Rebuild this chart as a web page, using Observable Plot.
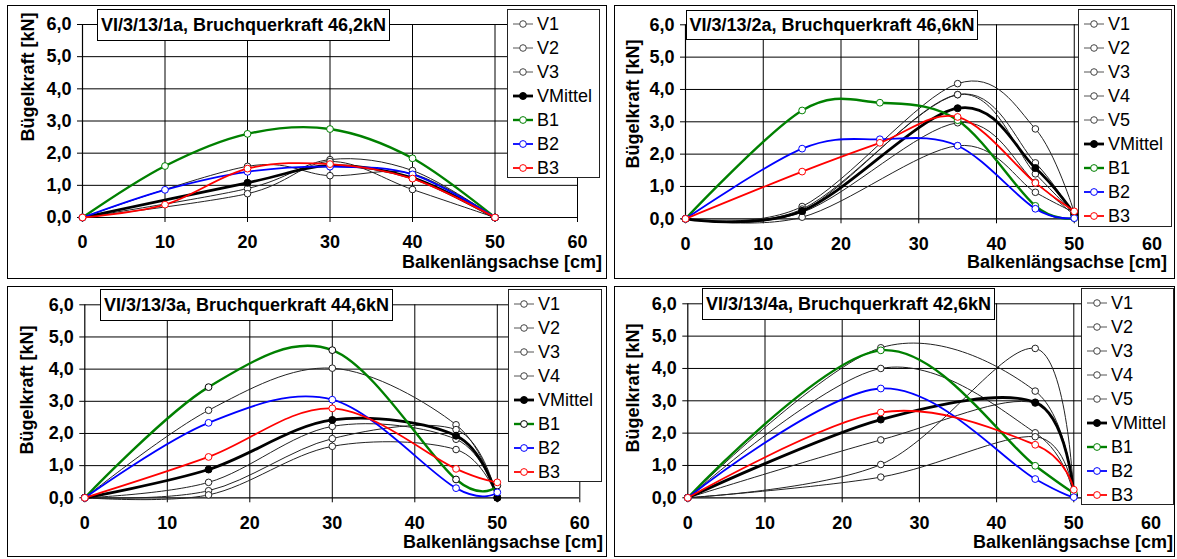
<!DOCTYPE html>
<html><head><meta charset="utf-8">
<script src="https://cdn.jsdelivr.net/npm/d3@7"></script>
<script src="https://cdn.jsdelivr.net/npm/@observablehq/plot@0.6"></script>
<style>
body{margin:0;background:#fff;font-family:"Liberation Sans",Arial,sans-serif;color:#000;}
#root{position:relative;width:1177px;height:559px;overflow:hidden;background:#fff;}
.frame{position:absolute;box-sizing:border-box;border:1.5px solid #000;}
.plotwrap{position:absolute;}
.plotwrap svg{display:block;overflow:visible;}
.title{position:absolute;box-sizing:border-box;border:1px solid #000;background:#fff;font-weight:bold;font-size:18px;display:flex;align-items:center;justify-content:center;white-space:nowrap;}
.legend{position:absolute;box-sizing:border-box;border:1px solid #222;background:#fff;}
.lg-item{position:absolute;left:4px;height:22px;display:flex;align-items:center;font-size:18px;white-space:nowrap;}
.lg-item svg{display:block;margin-right:3px;}
.ylab{position:absolute;font-weight:bold;font-size:18px;white-space:nowrap;transform:translate(-50%,-50%) rotate(-90deg);}
.xlab{position:absolute;font-weight:bold;font-size:18px;white-space:nowrap;transform:translate(-100%,-50%);}
</style></head><body><div id="root"></div>
<script>
// ---------- shared labels / ticks ----------
const xTicks = [0, 10, 20, 30, 40, 50, 60];
const yTicks = [0, 1, 2, 3, 4, 5, 6];
const xLabel = "Balkenlängsachse [cm]";
const yLabel = "Bügelkraft [kN]";

// ---------- Panel 1: VI/3/13/1a ----------
const p1_title = "VI/3/13/1a, Bruchquerkraft 46,2kN";
const p1_xV = [0, 20, 30, 40, 50];
const p1_xB = [0, 10, 20, 30, 40, 50];
const p1_V1 = [0, 1.59, 1.30, 1.36, 0];
const p1_V2 = [0, 0.90, 1.80, 1.46, 0];
const p1_V3 = [0, 0.74, 1.74, 0.87, 0];
const p1_VMittel = [0, 1.08, 1.61, 1.23, 0];
const p1_B1 = [0, 1.60, 2.60, 2.75, 1.84, 0];
const p1_B2 = [0, 0.86, 1.42, 1.58, 1.34, 0];
const p1_B3 = [0, 0.40, 1.52, 1.66, 1.21, 0];

// ---------- Panel 2: VI/3/13/2a ----------
const p2_title = "VI/3/13/2a, Bruchquerkraft 46,6kN";
const p2_xV = [0, 15, 35, 45, 50];
const p2_xB = [0, 15, 25, 35, 45, 50];
const p2_V1 = [0, 0.38, 4.18, 2.78, 0.20];
const p2_V2 = [0, 0.30, 3.84, 1.73, 0.10];
const p2_V3 = [0, 0.25, 3.84, 1.39, 0.15];
const p2_V4 = [0, 0.20, 2.97, 1.13, 0.10];
const p2_V5 = [0, 0.05, 2.26, 0.82, 0.20];
const p2_VMittel = [0, 0.24, 3.42, 1.57, 0.15];
const p2_B1 = [0, 3.35, 3.59, 3.05, 0.40, 0.02];
const p2_B2 = [0, 2.17, 2.46, 2.26, 0.31, 0.02];
const p2_B3 = [0, 1.46, 2.35, 3.15, 1.11, 0.23];

// ---------- Panel 3: VI/3/13/3a ----------
const p3_title = "VI/3/13/3a, Bruchquerkraft 44,6kN";
const p3_x = [0, 15, 30, 45, 50];
const p3_V1 = [0, 2.72, 4.03, 2.27, 0];
const p3_V2 = [0, 0.48, 2.22, 1.82, 0];
const p3_V3 = [0, 0.22, 1.84, 2.12, 0];
const p3_V4 = [0, 0.09, 1.60, 1.50, 0];
const p3_VMittel = [0, 0.88, 2.42, 1.93, 0];
const p3_B1 = [0, 3.44, 4.59, 0.57, 0.38];
const p3_B2 = [0, 2.33, 3.05, 0.30, 0.17];
const p3_B3 = [0, 1.27, 2.78, 0.90, 0.48];

// ---------- Panel 4: VI/3/13/4a ----------
const p4_title = "VI/3/13/4a, Bruchquerkraft 42,6kN";
const p4_x = [0, 25, 45, 50];
const p4_V1 = [0, 4.64, 3.30, 0.10];
const p4_V2 = [0, 4.00, 2.01, 0.05];
const p4_V3 = [0, 1.79, 2.93, 0.10];
const p4_V4 = [0, 1.03, 4.62, 0.05];
const p4_V5 = [0, 0.64, 1.89, 0.10];
const p4_VMittel = [0, 2.42, 2.95, 0.08];
const p4_B1 = [0, 4.56, 0.99, 0.15];
const p4_B2 = [0, 3.38, 0.58, 0.02];
const p4_B3 = [0, 2.64, 1.64, 0.25];

// ---------- styles ----------
const GREEN = "#008000", BLUE = "#0000ff", RED = "#ff0000", THIN = "#222";
function vStyle() { return {stroke: THIN, width: 1, fill: "#fff", mstroke: THIN, r: 3.3}; }
const meanStyle = {stroke: "#000", width: 2.8, fill: "#000", mstroke: "#000", r: 3.5};
const b1Style = {stroke: GREEN, width: 2.4, fill: "#fff", mstroke: GREEN, r: 3.4};
const b1StyleBlack = {stroke: GREEN, width: 2.4, fill: "#fff", mstroke: "#000", r: 3.4};
const b2Style = {stroke: BLUE, width: 1.8, fill: "#fff", mstroke: BLUE, r: 3.4};
const b3Style = {stroke: RED, width: 1.8, fill: "#fff", mstroke: RED, r: 3.4};

const panels = [
  {
    title: p1_title,
    box: {l: 7, t: 5, w: 600, h: 274}, area: {x0: 82, x60: 577, y6: 24, y0: 217},
    tbox: {l: 97, t: 9, w: 293, h: 32}, ylab: {x: 28, y: 77}, xlab: {r: 602, y: 262},
    leg: {l: 507, t: 9, w: 93, h: 169},
    series: [
      {name: "V1", x: p1_xV, y: p1_V1, s: vStyle()},
      {name: "V2", x: p1_xV, y: p1_V2, s: vStyle()},
      {name: "V3", x: p1_xV, y: p1_V3, s: vStyle()},
      {name: "VMittel", x: p1_xV, y: p1_VMittel, s: meanStyle},
      {name: "B1", x: p1_xB, y: p1_B1, s: b1Style},
      {name: "B2", x: p1_xB, y: p1_B2, s: b2Style},
      {name: "B3", x: p1_xB, y: p1_B3, s: b3Style}
    ]
  },
  {
    title: p2_title,
    box: {l: 614, t: 5, w: 561, h: 274}, area: {x0: 685, x60: 1151.5, y6: 24.3, y0: 218.3},
    tbox: {l: 686, t: 10, w: 292, h: 30}, ylab: {x: 633, y: 104}, xlab: {r: 1167, y: 262},
    leg: {l: 1078, t: 9, w: 94, h: 218},
    series: [
      {name: "V1", x: p2_xV, y: p2_V1, s: vStyle()},
      {name: "V2", x: p2_xV, y: p2_V2, s: vStyle()},
      {name: "V3", x: p2_xV, y: p2_V3, s: vStyle()},
      {name: "V4", x: p2_xV, y: p2_V4, s: vStyle()},
      {name: "V5", x: p2_xV, y: p2_V5, s: vStyle()},
      {name: "VMittel", x: p2_xV, y: p2_VMittel, s: meanStyle},
      {name: "B1", x: p2_xB, y: p2_B1, s: b1Style},
      {name: "B2", x: p2_xB, y: p2_B2, s: b2Style},
      {name: "B3", x: p2_xB, y: p2_B3, s: b3Style}
    ]
  },
  {
    title: p3_title,
    box: {l: 7, t: 286, w: 600, h: 271}, area: {x0: 84.3, x60: 579.3, y6: 304.3, y0: 497.3},
    tbox: {l: 100, t: 289, w: 293, h: 32}, ylab: {x: 27, y: 390}, xlab: {r: 603, y: 542},
    leg: {l: 508, t: 289, w: 94, h: 193},
    series: [
      {name: "V1", x: p3_x, y: p3_V1, s: vStyle()},
      {name: "V2", x: p3_x, y: p3_V2, s: vStyle()},
      {name: "V3", x: p3_x, y: p3_V3, s: vStyle()},
      {name: "V4", x: p3_x, y: p3_V4, s: vStyle()},
      {name: "VMittel", x: p3_x, y: p3_VMittel, s: meanStyle},
      {name: "B1", x: p3_x, y: p3_B1, s: b1StyleBlack},
      {name: "B2", x: p3_x, y: p3_B2, s: b2Style},
      {name: "B3", x: p3_x, y: p3_B3, s: b3Style}
    ]
  },
  {
    title: p4_title,
    box: {l: 614, t: 286, w: 561, h: 271}, area: {x0: 687.3, x60: 1150.5, y6: 303.3, y0: 497.3},
    tbox: {l: 702, t: 288, w: 293, h: 32}, ylab: {x: 633, y: 388}, xlab: {r: 1173, y: 542},
    leg: {l: 1081, t: 288, w: 93, h: 217},
    series: [
      {name: "V1", x: p4_x, y: p4_V1, s: vStyle()},
      {name: "V2", x: p4_x, y: p4_V2, s: vStyle()},
      {name: "V3", x: p4_x, y: p4_V3, s: vStyle()},
      {name: "V4", x: p4_x, y: p4_V4, s: vStyle()},
      {name: "V5", x: p4_x, y: p4_V5, s: vStyle()},
      {name: "VMittel", x: p4_x, y: p4_VMittel, s: meanStyle},
      {name: "B1", x: p4_x, y: p4_B1, s: b1Style},
      {name: "B2", x: p4_x, y: p4_B2, s: b2Style},
      {name: "B3", x: p4_x, y: p4_B3, s: b3Style}
    ]
  }
];

const root = document.getElementById("root");
function el(tag, cls, css, text) {
  const e = document.createElement(tag);
  if (cls) e.className = cls;
  if (css) Object.assign(e.style, css);
  if (text != null) e.textContent = text;
  return e;
}
const fmtY = d => d.toFixed(1).replace(".", ",");

for (const p of panels) {
  const {box, area} = p;
  root.appendChild(el("div", "frame", {left: box.l + "px", top: box.t + "px", width: box.w + "px", height: box.h + "px"}));

  const marks = [
    Plot.ruleY(yTicks.filter(d => d > 0), {stroke: "#000", strokeWidth: 1}),
    Plot.ruleX(xTicks.filter(d => d > 0), {stroke: "#000", strokeWidth: 1}),
    Plot.ruleX([0], {stroke: "#000", strokeWidth: 1.2}),
    Plot.ruleY([0], {stroke: "#000", strokeWidth: 1.2}),
    Plot.axisX({ticks: xTicks, tickSize: 5, tickPadding: 13, tickFormat: d => String(d), label: null, fontSize: 18, fontWeight: "bold", stroke: "#000"}),
    Plot.axisY({ticks: yTicks, tickSize: 5, tickPadding: 6, tickFormat: fmtY, label: null, fontSize: 18, fontWeight: "bold", stroke: "#000"})
  ];
  for (const s of p.series) {
    const rows = s.x.map((x, i) => ({x, y: s.y[i], series: s.name}));
    marks.push(Plot.line(rows, {x: "x", y: "y", curve: "cardinal", stroke: s.s.stroke, strokeWidth: s.s.width, strokeLinejoin: "round"}));
    marks.push(Plot.dot(rows, {x: "x", y: "y", r: s.s.r, fill: s.s.fill, stroke: s.s.mstroke, strokeWidth: 1}));
  }

  const chart = Plot.plot({
    width: box.w, height: box.h,
    marginLeft: area.x0 - box.l, marginRight: box.l + box.w - area.x60,
    marginTop: area.y6 - box.t, marginBottom: box.t + box.h - area.y0,
    x: {domain: [0, 60]},
    y: {domain: [0, 6]},
    style: {fontFamily: "'Liberation Sans', Arial, sans-serif", fontSize: "18px", fontWeight: "bold", color: "#000", background: "transparent", overflow: "visible"},
    marks
  });
  const wrap = el("div", "plotwrap", {left: box.l + "px", top: box.t + "px", width: box.w + "px", height: box.h + "px"});
  wrap.appendChild(chart);
  root.appendChild(wrap);

  // title box
  root.appendChild(el("div", "title", {left: p.tbox.l + "px", top: p.tbox.t + "px", width: p.tbox.w + "px", height: p.tbox.h + "px"}, p.title));
  // axis titles
  root.appendChild(el("div", "ylab", {left: p.ylab.x + "px", top: p.ylab.y + "px"}, yLabel));
  root.appendChild(el("div", "xlab", {left: p.xlab.r + "px", top: p.xlab.y + "px"}, xLabel));

  // legend
  const leg = el("div", "legend", {left: p.leg.l + "px", top: p.leg.t + "px", width: p.leg.w + "px", height: p.leg.h + "px"});
  p.series.forEach((s, i) => {
    const item = el("div", "lg-item", {top: (14 + 24 * i - 11) + "px"});
    const ns = "http://www.w3.org/2000/svg";
    const svg = document.createElementNS(ns, "svg");
    svg.setAttribute("width", 22); svg.setAttribute("height", 12);
    const ln = document.createElementNS(ns, "line");
    ln.setAttribute("x1", 1); ln.setAttribute("x2", 21); ln.setAttribute("y1", 6); ln.setAttribute("y2", 6);
    ln.setAttribute("stroke", s.s.stroke === THIN ? "#555" : s.s.stroke);
    ln.setAttribute("stroke-width", s.s.width);
    const c = document.createElementNS(ns, "circle");
    c.setAttribute("cx", 11); c.setAttribute("cy", 6); c.setAttribute("r", s.s.r);
    c.setAttribute("fill", s.s.fill); c.setAttribute("stroke", s.s.mstroke === THIN ? "#444" : s.s.mstroke);
    c.setAttribute("stroke-width", 1);
    svg.appendChild(ln); svg.appendChild(c);
    item.appendChild(svg);
    item.appendChild(el("span", null, null, s.name));
    leg.appendChild(item);
  });
  root.appendChild(leg);
}
</script></body></html>
